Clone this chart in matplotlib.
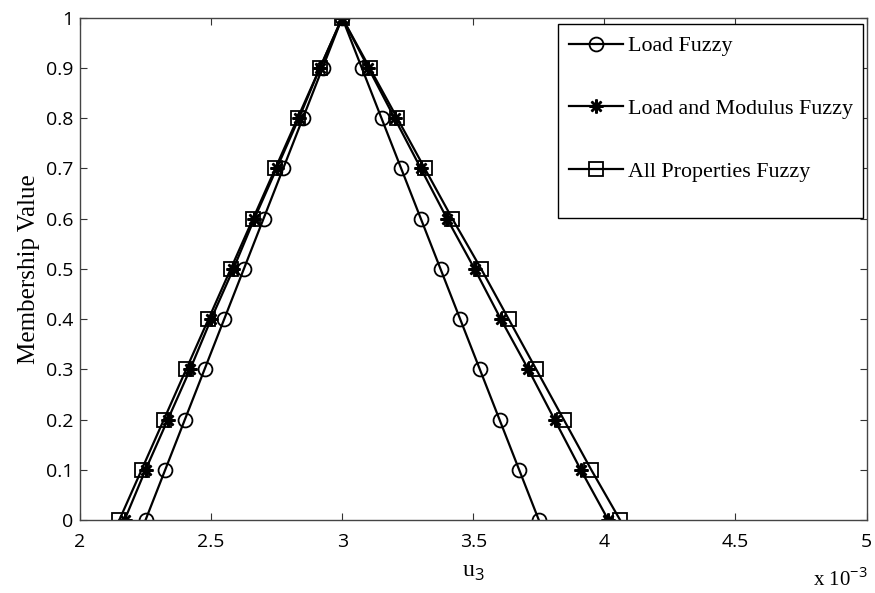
import matplotlib.pyplot as plt
import numpy as np
from matplotlib.patches import Rectangle

plt.rcParams['font.family'] = ['Liberation Serif', 'DejaVu Serif']
plt.rcParams['mathtext.fontset'] = 'custom'
plt.rcParams['mathtext.rm'] = 'Liberation Serif'
plt.rcParams['mathtext.sf'] = 'Open Sans'

# membership levels (alpha cuts), left branch up then right branch down
mu = [0, 0.1, 0.2, 0.3, 0.4, 0.5, 0.6, 0.7, 0.8, 0.9, 1.0,
      0.9, 0.8, 0.7, 0.6, 0.5, 0.4, 0.3, 0.2, 0.1, 0]

# displacement u3 (x 1e-3)
load_fuzzy = [2.25, 2.325, 2.40, 2.475, 2.55, 2.625, 2.70, 2.775, 2.85, 2.925, 3.0,
              3.075, 3.15, 3.225, 3.30, 3.375, 3.45, 3.525, 3.60, 3.675, 3.75]
load_modulus = [2.17, 2.25, 2.335, 2.42, 2.50, 2.585, 2.665, 2.75, 2.835, 2.915, 3.0,
                3.10, 3.20, 3.30, 3.40, 3.505, 3.605, 3.71, 3.81, 3.91, 4.015]
all_props = [2.15, 2.235, 2.32, 2.405, 2.49, 2.575, 2.66, 2.745, 2.83, 2.915, 3.0,
             3.105, 3.21, 3.315, 3.42, 3.53, 3.635, 3.74, 3.845, 3.95, 4.06]

fig = plt.figure(figsize=(8.75, 5.93), dpi=100)
ax = fig.add_axes([0.0914, 0.123, 0.899, 0.847])

asterisk = (8, 2, 0)
ax.plot(load_fuzzy, mu, '-', color='k', lw=1.6, marker='o', ms=10, mfc='none',
        mec='k', mew=1.3, label='Load Fuzzy')
ax.plot(load_modulus, mu, '-', color='k', lw=1.6, marker=asterisk, ms=10,
        mec='k', mew=1.8, label='Load and Modulus Fuzzy')
ax.plot(all_props, mu, '-', color='k', lw=1.6, marker='s', ms=10, mfc='none',
        mec='k', mew=1.3, label='All Properties Fuzzy')

ax.set_xlim(2, 5)
ax.set_ylim(0, 1)
ax.set_xticks(np.arange(2, 5.01, 0.5))
ax.set_xticklabels(['2', '2.5', '3', '3.5', '4', '4.5', '5'])
ax.set_yticks(np.arange(0, 1.01, 0.1))
ax.set_yticklabels(['0', '0.1', '0.2', '0.3', '0.4', '0.5', '0.6', '0.7', '0.8', '0.9', '1'])
ax.tick_params(direction='in', top=True, right=True, length=5, color='#333333')
ax.tick_params(axis='x', pad=9)
ax.tick_params(axis='y', pad=5)
for lab in ax.get_xticklabels() + ax.get_yticklabels():
    lab.set_fontfamily('Open Sans')
    lab.set_fontsize(14)
for s in ax.spines.values():
    s.set_color('#444444')
    s.set_linewidth(1.0)

ax.set_xlabel('u$_\\mathsf{3}$', fontsize=17, labelpad=8)
ax.set_ylabel('Membership Value', fontsize=18, labelpad=4)
fig.text(0.929, 0.012, 'x 10$^{\\mathsf{-3}}$', fontsize=15, ha='left', va='baseline')

# legend box drawn separately so the padding below the entries is larger
box = Rectangle((0.608, 0.602), 0.387, 0.386, transform=ax.transAxes,
                facecolor='white', edgecolor='black', lw=1.0, zorder=5)
ax.add_patch(box)
leg = ax.legend(loc='upper left', bbox_to_anchor=(0.606, 0.988), fontsize=15.8,
                frameon=False, labelspacing=1.93, handlelength=2.45,
                handletextpad=0.25, borderpad=0.55, borderaxespad=0.0)
leg.set_zorder(6)

fig.savefig('out.png', dpi=100)
